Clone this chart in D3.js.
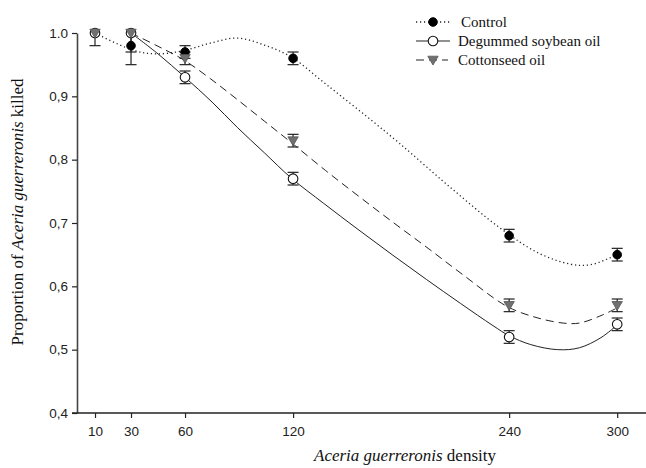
<!DOCTYPE html>
<html>
<head>
<meta charset="utf-8">
<script src="https://cdn.jsdelivr.net/npm/d3@7"></script>
<style>
  html, body { margin: 0; padding: 0; background: #fff; }
  svg { display: block; }
</style>
</head>
<body>
<svg id="chart" width="646" height="468"></svg>
<script>
// ---- data ----
const densities = [10, 30, 60, 120, 240, 300];
const xTickValues = [10, 30, 60, 120, 240, 300];
const yTickValues = [0.4, 0.5, 0.6, 0.7, 0.8, 0.9, 1.0];
const yTickLabels = ["0,4", "0,5", "0,6", "0,7", "0,8", "0,9", "1.0"];

const seriesNames = ["Control", "Degummed soybean oil", "Cottonseed oil"];

const controlMean = [1.0, 0.98, 0.97, 0.96, 0.68, 0.65];
const controlErr  = [0.02, 0.03, 0.01, 0.01, 0.01, 0.01];
const degummedMean = [1.0, 1.0, 0.93, 0.77, 0.52, 0.54];
const degummedErr  = [0, 0.03, 0.01, 0.01, 0.01, 0.01];
const cottonMean = [1.0, 1.0, 0.96, 0.83, 0.57, 0.57];
const cottonErr  = [0, 0, 0.01, 0.01, 0.01, 0.01];

// fitted curves
const controlFitX = [10, 31, 44, 59, 74, 89, 104, 119, 137, 157, 179, 207, 235, 256, 274, 285, 296, 300];
const controlFitY = [1.000, 0.973, 0.967, 0.972, 0.984, 0.992, 0.981, 0.962, 0.922, 0.877, 0.826, 0.757, 0.692, 0.653, 0.635, 0.634, 0.645, 0.650];
const degummedFitX = [30, 45, 60, 75, 89, 104, 119, 137, 156, 175, 194, 213, 231, 240, 252, 267, 279, 291, 300];
const degummedFitY = [1.0, 0.967, 0.93, 0.891, 0.851, 0.811, 0.771, 0.731, 0.690, 0.650, 0.611, 0.573, 0.538, 0.522, 0.508, 0.500, 0.503, 0.519, 0.539];
const cottonFitX = [30, 45, 59, 74, 89, 104, 119, 138, 157, 176, 195, 214, 239, 256, 270, 279, 292, 300];
const cottonFitY = [1.0, 0.979, 0.958, 0.928, 0.895, 0.861, 0.827, 0.783, 0.741, 0.700, 0.660, 0.619, 0.568, 0.550, 0.542, 0.542, 0.555, 0.566];

// ---- drawing ----
const svg = d3.select("#chart");
const x = d3.scaleLinear().domain([0, 316]).range([77, 646]);
const y = d3.scaleLinear().domain([0.4, 1.0]).range([413, 33]);
const ink = "#222";

// axes
const yAxis = d3.axisLeft(y).tickValues(yTickValues)
  .tickFormat((d, i) => yTickLabels[i]).tickSize(5).tickPadding(4).tickSizeOuter(0);
const gy = svg.append("g").attr("transform", `translate(${x(0)},0)`).call(yAxis);
const xAxis = d3.axisBottom(x).tickValues(xTickValues).tickSize(5).tickPadding(8).tickSizeOuter(0);
const gx = svg.append("g").attr("transform", `translate(0,${y(0.4)})`).call(xAxis);
[gx, gy].forEach(g => {
  g.select(".domain").attr("stroke", ink).attr("stroke-width", 1.6);
  g.selectAll(".tick line").attr("stroke", ink).attr("stroke-width", 1.2);
  g.selectAll(".tick text").attr("fill", "#222")
    .style("font-family", "'Liberation Sans', Arial, sans-serif").style("font-size", "13.5px");
});
gy.select(".domain").attr("stroke", "#444");
gx.select(".domain").attr("d", `M${x(0) - 5},0H646`);

// axis titles
const serif = "'Liberation Serif', 'Times New Roman', serif";
const xt = svg.append("text").attr("x", 405).attr("y", 461).attr("text-anchor", "middle")
  .style("font-family", serif).style("font-size", "17px").attr("fill", "#111");
xt.append("tspan").style("font-style", "italic").text("Aceria guerreronis");
xt.append("tspan").text(" density");

const yt = svg.append("text").attr("transform", "translate(23,212) rotate(-90)").attr("text-anchor", "middle")
  .style("font-family", serif).style("font-size", "17px").attr("fill", "#111");
yt.append("tspan").text("Proportion of ");
yt.append("tspan").style("font-style", "italic").text("Aceria guerreronis");
yt.append("tspan").text(" killed");

// curves
const line = d3.line().x(d => x(d[0])).y(d => y(d[1])).curve(d3.curveCatmullRom.alpha(0.5));
const dashes = ["1.2,2.8", null, "8,5"];
const fits = [
  d3.zip(controlFitX, controlFitY),
  d3.zip(degummedFitX, degummedFitY),
  d3.zip(cottonFitX, cottonFitY)
];
fits.forEach((pts, i) => {
  svg.append("path").attr("d", line(pts)).attr("fill", "none")
    .attr("stroke", ink).attr("stroke-width", i === 0 ? 1.3 : 1)
    .attr("stroke-dasharray", dashes[i]);
});

// error bars
const means = [controlMean, degummedMean, cottonMean];
const errs = [controlErr, degummedErr, cottonErr];
const capW = 5.5;
means.forEach((m, si) => {
  densities.forEach((dv, i) => {
    const e = errs[si][i];
    if (!e) return;
    const lo = m[i] - e, hi = Math.min(m[i] + e, 1.0);
    const cx = x(dv);
    const g = svg.append("g").attr("stroke", ink).attr("stroke-width", 1.2);
    g.append("line").attr("x1", cx).attr("x2", cx).attr("y1", y(lo)).attr("y2", y(hi));
    g.append("line").attr("x1", cx - capW).attr("x2", cx + capW).attr("y1", y(lo)).attr("y2", y(lo));
    if (m[i] + e <= 1.0) {
      g.append("line").attr("x1", cx - capW).attr("x2", cx + capW).attr("y1", y(hi)).attr("y2", y(hi));
    }
  });
});

// markers
function drawMarker(g, type, cx, cy) {
  if (type === 0) {
    g.append("circle").attr("cx", cx).attr("cy", cy).attr("r", 4.3).attr("fill", "#000").attr("stroke", "#000");
  } else if (type === 1) {
    g.append("circle").attr("cx", cx).attr("cy", cy).attr("r", 4.8).attr("fill", "#fff").attr("stroke", "#111").attr("stroke-width", 1.1);
  } else {
    const s = 5.2;
    g.append("path").attr("d", `M${cx - s},${cy - 3.8}L${cx + s},${cy - 3.8}L${cx},${cy + 5}Z`)
      .attr("fill", "#707070").attr("stroke", "#555").attr("stroke-width", 0.8);
  }
}
means.forEach((m, si) => {
  const g = svg.append("g");
  densities.forEach((dv, i) => drawMarker(g, si, x(dv), y(m[i])));
});

// legend
const legY = [22, 41, 60];
const legTextX = [461, 458, 458];
seriesNames.forEach((name, i) => {
  const g = svg.append("g");
  g.append("line").attr("x1", 416).attr("x2", i === 2 ? 448 : 450).attr("y1", legY[i]).attr("y2", legY[i])
    .attr("stroke", ink).attr("stroke-width", i === 0 ? 1.3 : 1).attr("stroke-dasharray", dashes[i]);
  drawMarker(g, i, 433, legY[i]);
  g.append("text").attr("x", legTextX[i]).attr("y", legY[i]).attr("dy", "0.33em")
    .style("font-family", serif).style("font-size", "15px").attr("fill", "#111").text(name);
});
</script>
</body>
</html>
